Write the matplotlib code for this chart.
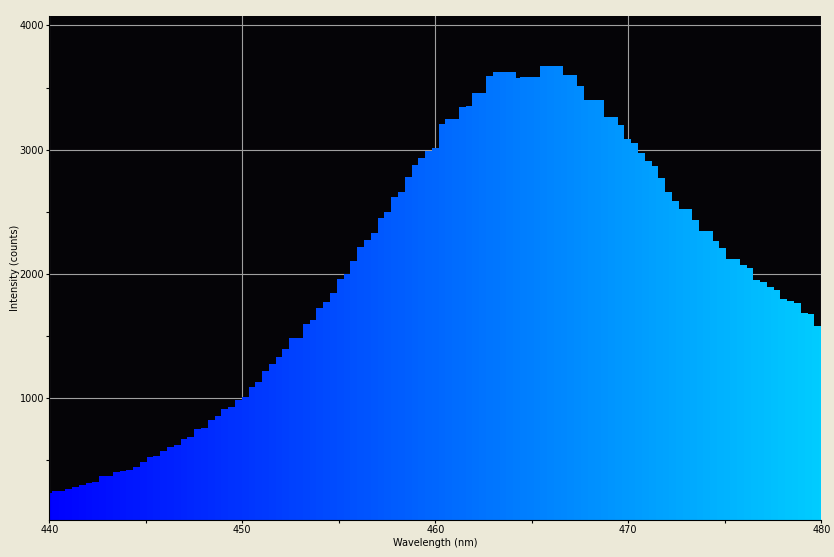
import matplotlib
matplotlib.use("Agg")
import matplotlib.pyplot as plt
from matplotlib.ticker import MultipleLocator, FixedLocator
import numpy as np

wavelengths = [
    440.01, 440.37, 440.72, 441.07, 441.42, 441.77, 442.12, 442.48, 442.83, 443.18,
    443.53, 443.88, 444.23, 444.59, 444.94, 445.29, 445.64, 445.99, 446.34, 446.70,
    447.05, 447.40, 447.75, 448.10, 448.45, 448.81, 449.16, 449.51, 449.86, 450.21,
    450.57, 450.92, 451.27, 451.62, 451.97, 452.32, 452.68, 453.03, 453.38, 453.73,
    454.08, 454.43, 454.79, 455.14, 455.49, 455.84, 456.19, 456.54, 456.90, 457.25,
    457.60, 457.95, 458.30, 458.65, 459.01, 459.36, 459.71, 460.06, 460.41, 460.76,
    461.12, 461.47, 461.82, 462.17, 462.52, 462.87, 463.23, 463.58, 463.93, 464.28,
    464.63, 464.98, 465.34, 465.69, 466.04, 466.39, 466.74, 467.09, 467.45, 467.80,
    468.15, 468.50, 468.85, 469.20, 469.56, 469.91, 470.26, 470.61, 470.96, 471.31,
    471.67, 472.02, 472.37, 472.72, 473.07, 473.42, 473.78, 474.13, 474.48, 474.83,
    475.18, 475.53, 475.89, 476.24, 476.59, 476.94, 477.29, 477.64, 478.00, 478.35,
    478.70, 479.05, 479.40, 479.75, 480.11,
]

counts = [
    230, 249, 249, 265, 281, 297, 313, 318, 367, 367,
    401, 410, 418, 442, 482, 522, 530, 570, 603, 619,
    665, 683, 748, 755, 820, 852, 908, 924, 978, 1002,
    1083, 1123, 1212, 1268, 1324, 1389, 1477, 1477, 1590, 1622,
    1718, 1767, 1839, 1951, 1991, 2096, 2209, 2265, 2321, 2442,
    2491, 2611, 2651, 2772, 2869, 2925, 2981, 3005, 3198, 3238,
    3238, 3335, 3343, 3448, 3448, 3585, 3617, 3617, 3617, 3569,
    3577, 3577, 3577, 3664, 3664, 3664, 3593, 3593, 3504, 3392,
    3392, 3392, 3255, 3255, 3194, 3082, 3049, 2969, 2904, 2864,
    2765, 2651, 2578, 2514, 2514, 2426, 2337, 2337, 2257, 2200,
    2111, 2111, 2063, 2039, 1943, 1927, 1887, 1863, 1790, 1774,
    1758, 1678, 1670, 1573, 1541,
]

x_ticks = [440, 450, 460, 470, 480]
y_ticks = [1000, 2000, 3000, 4000]

fig_bg = "#ECE9D8"
plot_bg = "#050407"
grid_col = "#A0A0A0"

fig = plt.figure(figsize=(8.34, 5.57), dpi=100, facecolor=fig_bg)
W, H = 834, 557
left, right, top, bottom = 49.3, 821.3, 16, 520
ax = fig.add_axes([left / W, (H - bottom) / H, (right - left) / W, (bottom - top) / H])
ax.set_facecolor(plot_bg)

bar_w = 0.3517
colors = [(0.0, min(max((w - 440.0) / 50.0, 0.0), 1.0), 1.0) for w in wavelengths]
ax.bar(wavelengths, counts, width=bar_w + 0.03, color=colors, edgecolor=colors,
       linewidth=0.3, antialiased=False, zorder=2)

ax.set_xlim(440, 480)
ax.set_ylim(21, 4076)

ax.xaxis.set_major_locator(FixedLocator(x_ticks))
ax.xaxis.set_minor_locator(MultipleLocator(5))
ax.yaxis.set_major_locator(FixedLocator(y_ticks))
ax.yaxis.set_minor_locator(MultipleLocator(500))

ax.grid(True, which="major", color=grid_col, linewidth=0.8, zorder=1)
ax.set_axisbelow(True)

for s in ["top", "right"]:
    ax.spines[s].set_visible(False)
ax.spines["left"].set_color("black")
ax.spines["bottom"].set_color("black")
ax.spines["left"].set_linewidth(0.8)
ax.spines["bottom"].set_linewidth(0.8)

ax.tick_params(axis="both", which="major", length=2.5, width=0.8, color="black",
               labelsize=7, pad=1.2)
ax.tick_params(axis="both", which="minor", length=2.5, width=0.8, color="black")

ax.set_xlabel("Wavelength (nm)", fontsize=7, labelpad=2)
ax.set_ylabel("Intensity (counts)", fontsize=7, labelpad=0)

fig.savefig("out.png", dpi=100, facecolor=fig_bg)
